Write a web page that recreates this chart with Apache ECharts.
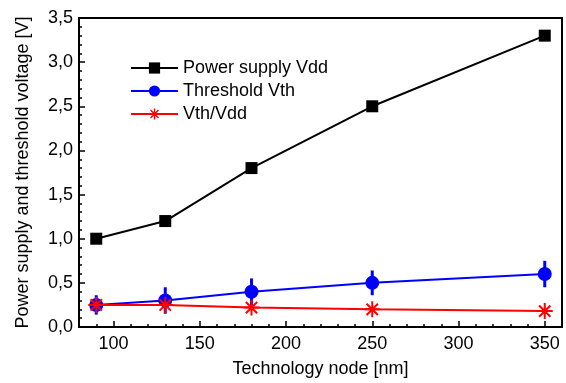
<!DOCTYPE html>
<html>
<head>
<meta charset="utf-8">
<title>vdd-vth</title>
<script src="https://cdn.jsdelivr.net/npm/echarts@6/dist/echarts.min.js"></script>
</head>
<body style="margin:0">
	<div id="main" style="width: 566px; height: 383px;"></div>
</body>
<script>
	// technology node [nm]
	var nodes = [90, 130, 180, 250, 350];
	var vdd = [1.0, 1.2, 1.8, 2.5, 3.3];
	var vth = [0.25, 0.3, 0.4, 0.5, 0.6];
	var vthErr = [0.11, 0.15, 0.15, 0.14, 0.15];
	var ratio = [0.25, 0.25, 0.22, 0.2, 0.18];
	var names = ['Power supply Vdd', 'Threshold Vth', 'Vth/Vdd'];
	var xTicks = [100, 150, 200, 250, 300, 350];

	// asterisk symbol
	var star = 'path://M-1,-8L1,-8L1,8L-1,8Z M-8,-1L8,-1L8,1L-8,1Z ' +
		'M-4.95,-6.37L6.37,4.95L4.95,6.37L-6.37,-4.95Z ' +
		'M4.95,-6.37L6.37,-4.95L-4.95,6.37L-6.37,4.95Z';

	var chart = echarts.init(document.getElementById('main'));

	var pairs = function (ys) {
		return nodes.map(function (x, i) { return [x, ys[i]]; });
	};
	var font = 18;

	var option = {
		animation: false,
		textStyle: { fontFamily: 'Liberation Sans, Arial, sans-serif', color: '#000' },
		grid: {
			left: 79, right: 4, top: 18, bottom: 53,
			show: true, borderColor: '#000', borderWidth: 2
		},
		legend: {
			orient: 'vertical',
			left: 125, top: 54,
			itemWidth: 47, itemHeight: 14, itemGap: 5,
			textStyle: { fontSize: font, color: '#000' },
			data: names
		},
		xAxis: [{
			type: 'value', min: 80, max: 360, interval: 10,
			name: 'Technology node [nm]', nameLocation: 'middle', nameGap: 33,
			nameTextStyle: { fontSize: font, color: '#000' },
			axisLine: { onZero: false, lineStyle: { color: '#000', width: 2 } },
			axisTick: { inside: true, length: 3, lineStyle: { color: '#000', width: 1.5 } },
			axisLabel: { fontSize: font, color: '#000', margin: 8, customValues: xTicks },
			splitLine: { show: false }
		}, {
			// long ticks at labelled values
			type: 'value', min: 80, max: 360, position: 'bottom',
			axisLine: { show: false },
			axisTick: { inside: true, length: 6, customValues: xTicks, lineStyle: { color: '#000', width: 1.5 } },
			axisLabel: { show: false },
			splitLine: { show: false }
		}],
		yAxis: {
			type: 'value', min: 0, max: 3.5, interval: 0.5,
			name: 'Power supply and threshold voltage [V]', nameLocation: 'middle', nameGap: 47,
			nameTextStyle: { fontSize: font, color: '#000' },
			axisLine: { show: true, lineStyle: { color: '#000', width: 2 } },
			axisTick: { inside: true, length: 6, lineStyle: { color: '#000', width: 1.5 } },
			minorTick: { show: true, splitNumber: 5, length: 3, lineStyle: { color: '#000', width: 1.5 } },
			axisLabel: {
				fontSize: font, color: '#000', margin: 6,
				formatter: function (v) { return v.toFixed(1).replace('.', ','); }
			},
			splitLine: { show: false }
		},
		series: [
			{
				name: names[0], type: 'line', data: pairs(vdd),
				symbol: 'rect', symbolSize: 12,
				lineStyle: { color: '#000', width: 2 },
				itemStyle: { color: '#000' }
			},
			{
				name: 'err', type: 'custom', z: 1,
				data: nodes.map(function (x, i) { return [x, vth[i] - vthErr[i], vth[i] + vthErr[i]]; }),
				renderItem: function (params, api) {
					var lo = api.coord([api.value(0), api.value(1)]);
					var hi = api.coord([api.value(0), api.value(2)]);
					return {
						type: 'line',
						shape: { x1: lo[0], y1: lo[1], x2: hi[0], y2: hi[1] },
						style: { stroke: '#0000ff', lineWidth: 3 }
					};
				}
			},
			{
				name: names[1], type: 'line', data: pairs(vth), z: 3,
				symbol: 'circle', symbolSize: 14,
				lineStyle: { color: '#0000ff', width: 2 },
				itemStyle: { color: '#0000ff' }
			},
			{
				name: names[2], type: 'line', data: pairs(ratio), z: 4,
				symbol: star, symbolSize: 16,
				lineStyle: { color: '#ff0000', width: 2 },
				itemStyle: { color: '#ff0000' }
			}
		]
	};
	chart.setOption(option);
</script>
</html>
